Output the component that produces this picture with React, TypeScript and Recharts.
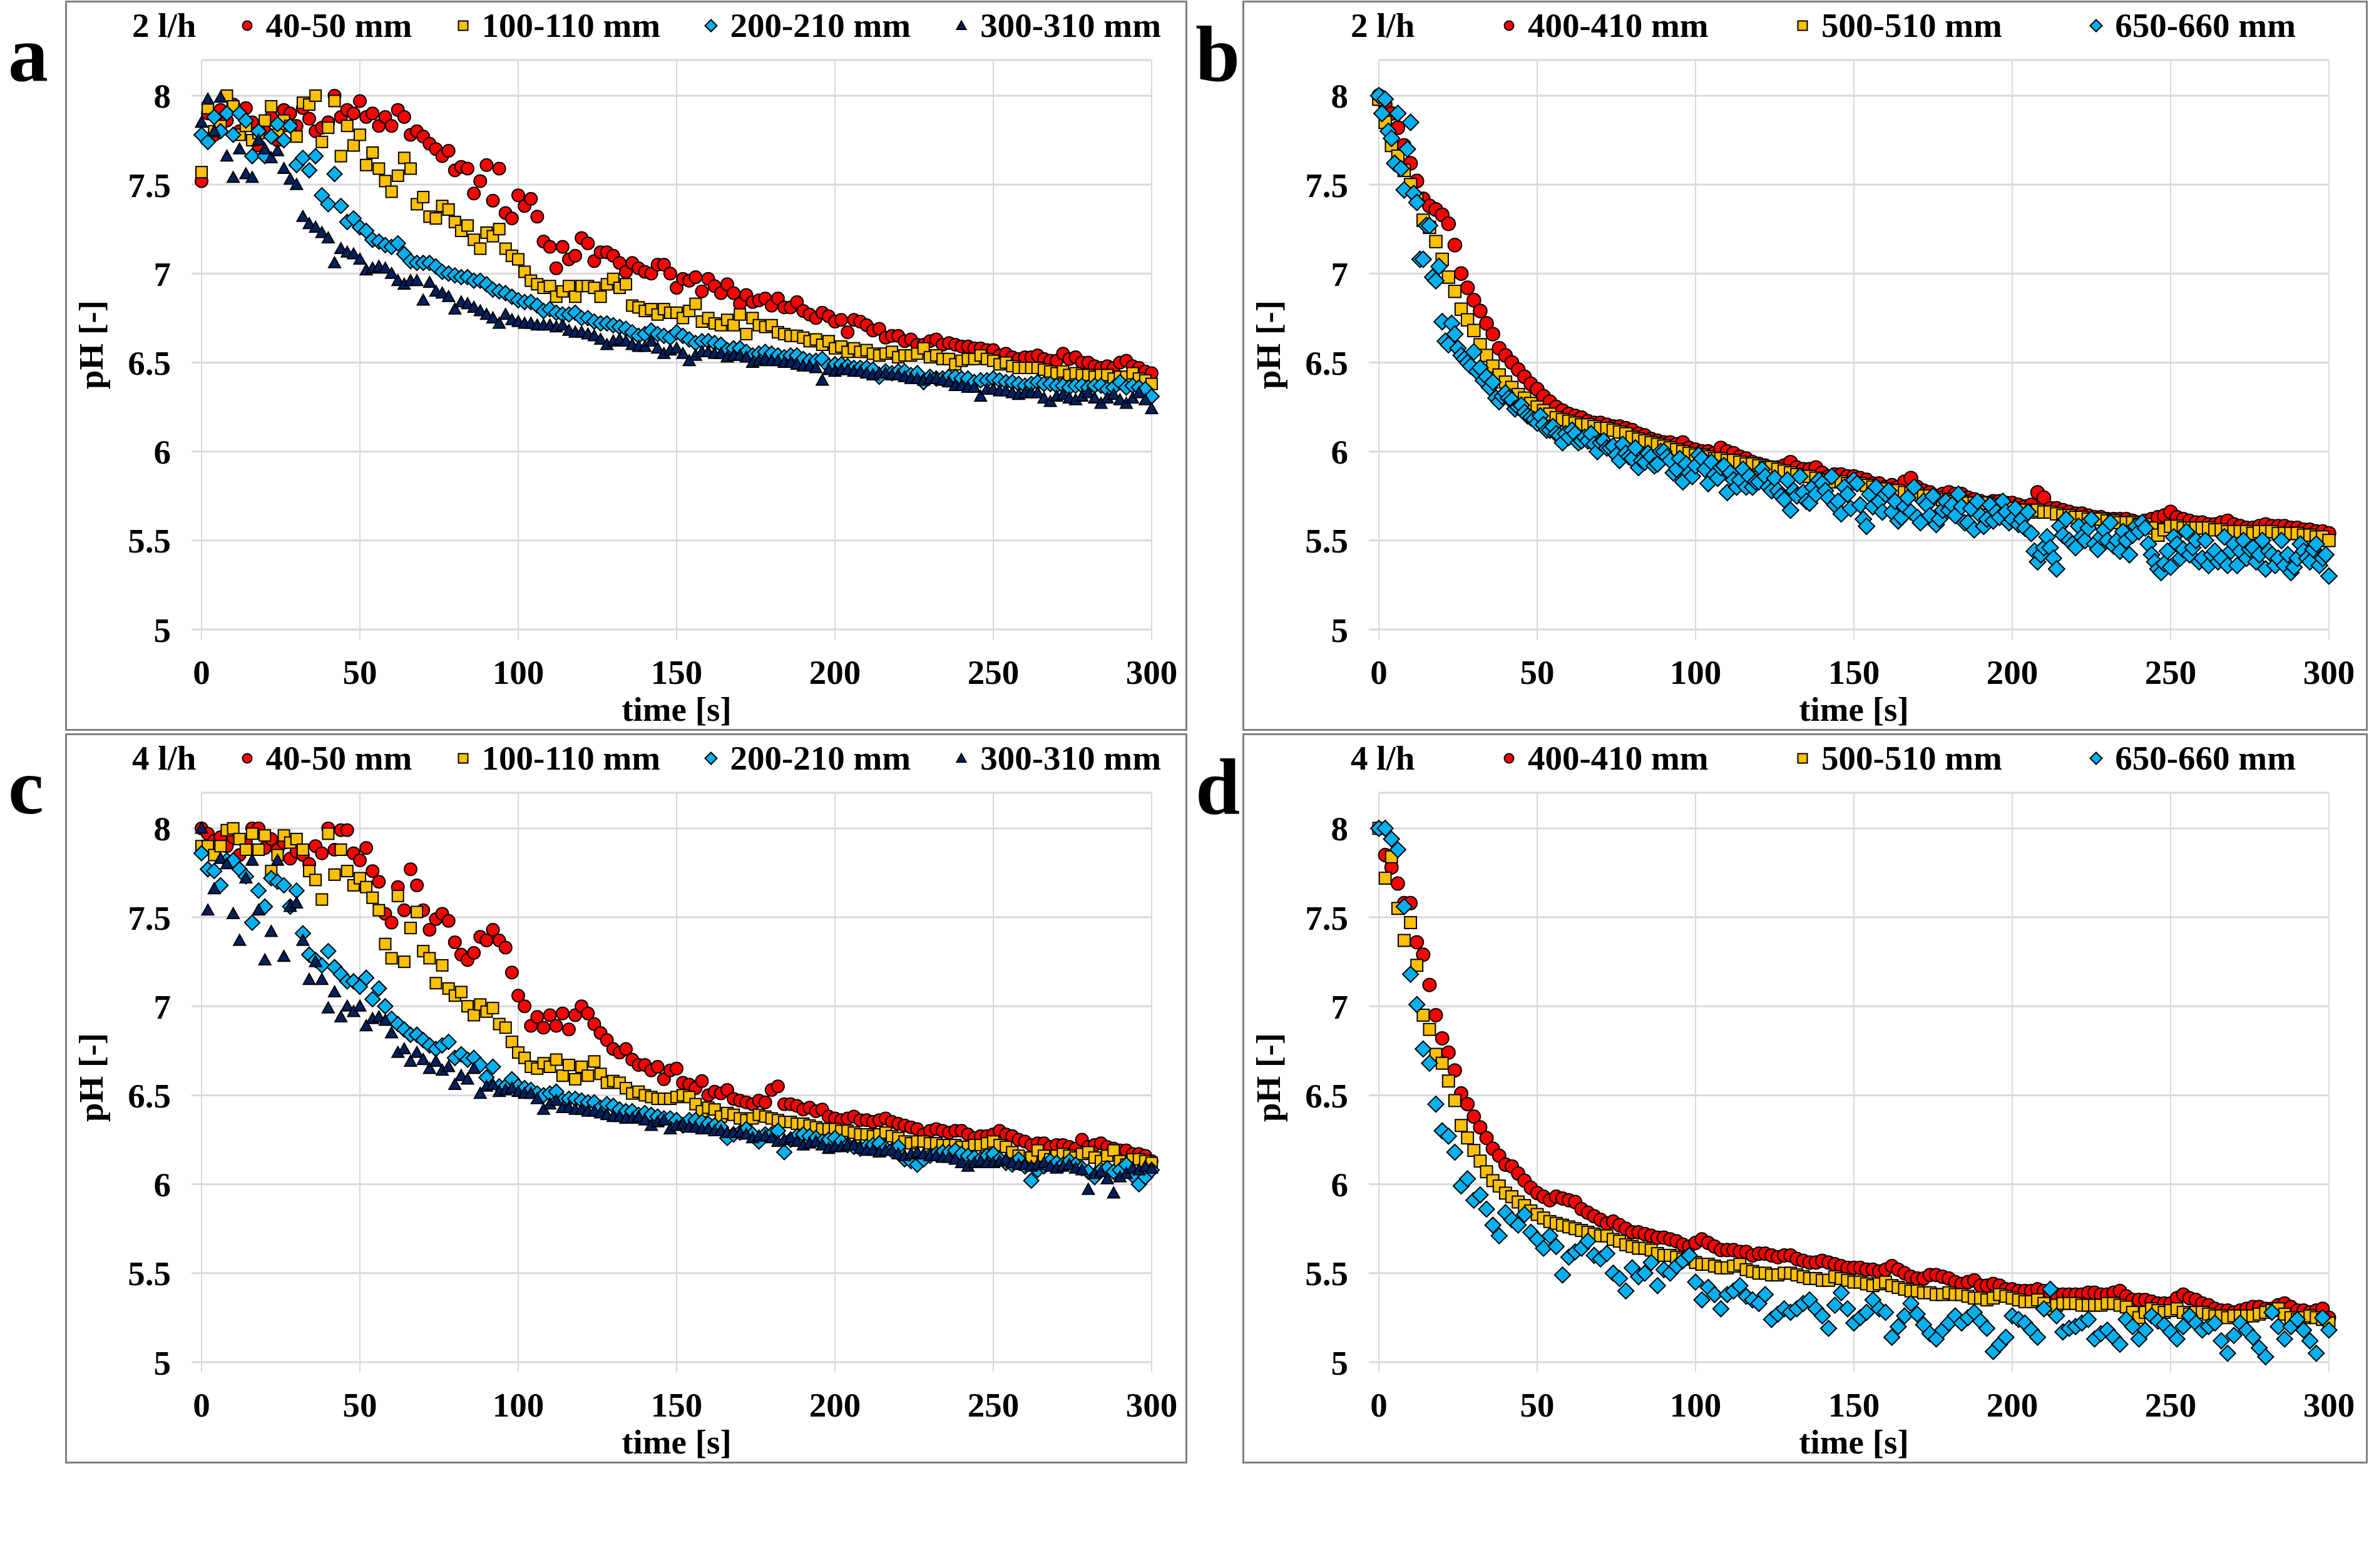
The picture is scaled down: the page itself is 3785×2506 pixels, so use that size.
import { ScatterChart, Scatter, XAxis, YAxis, CartesianGrid } from "recharts";

const FONT = "'Liberation Serif', 'Times New Roman', serif";

// logger wrote one pH reading every 2 s over the 300 s run
const TIME_S = Array.from({ length: 151 }, (_, i) => i * 2);
// the 650-660 mm probe at 2 l/h also logged the odd seconds
const TIME_ODD_S = Array.from({ length: 150 }, (_, i) => i * 2 + 1);

const X_TICKS = [0, 50, 100, 150, 200, 250, 300];
const Y_TICKS = [5, 5.5, 6, 6.5, 7, 7.5, 8];

const RED = "#ff0000";
const YELLOW = "#ffc000";
const BLUE = "#00b0f0";
const NAVY = "#002060";

// ---- a: 2 l/h, upper probes ----
const A_40_50 = [
  7.52, 7.90, 7.78, 7.92, 7.86, 7.95, 7.80, 7.93, 7.85, 7.72,
  7.80, 7.88, 7.75, 7.92, 7.90, 7.83, 7.93, 7.87, 7.80, 7.82,
  7.85, 8.00, 7.88, 7.92, 7.90, 7.97, 7.88, 7.90, 7.83, 7.88,
  7.83, 7.92, 7.88, 7.78, 7.80, 7.77, 7.73, 7.70, 7.66, 7.69,
  7.58, 7.60, 7.59, 7.45, 7.52, 7.61, 7.41, 7.59, 7.34, 7.31,
  7.44, 7.38, 7.42, 7.32, 7.18, 7.15, 7.03, 7.15, 7.08, 7.10,
  7.20, 7.17, 7.07, 7.12, 7.12, 7.10, 7.06, 7.01, 7.06, 7.03,
  7.01, 7.00, 7.05, 7.05, 7.00, 6.92, 6.97, 6.96, 6.98, 6.90,
  6.97, 6.93, 6.89, 6.94, 6.89, 6.83, 6.88, 6.84, 6.85, 6.86,
  6.82, 6.86, 6.81, 6.81, 6.84, 6.79, 6.77, 6.75, 6.78, 6.76,
  6.73, 6.74, 6.67, 6.74, 6.73, 6.71, 6.68, 6.69, 6.64, 6.65,
  6.65, 6.62, 6.63, 6.60, 6.60, 6.62, 6.63, 6.60, 6.61, 6.60,
  6.59, 6.59, 6.58, 6.58, 6.57, 6.57, 6.54, 6.55, 6.53, 6.52,
  6.53, 6.53, 6.54, 6.52, 6.51, 6.51, 6.55, 6.52, 6.53, 6.50,
  6.50, 6.48, 6.47, 6.48, 6.47, 6.50, 6.51, 6.48, 6.47, 6.45, 6.44,
];
const A_100_110 = [
  7.57, 7.93, 7.80, 7.83, 8.00, 7.94, 7.78, 7.83, 7.75, 7.79,
  7.86, 7.94, 7.78, 7.86, 7.83, 7.77, 7.96, 7.95, 8.00, 7.74,
  7.82, 7.97, 7.66, 7.83, 7.72, 7.78, 7.61, 7.68, 7.59, 7.52,
  7.46, 7.55, 7.65, 7.59, 7.39, 7.43, 7.32, 7.31, 7.38, 7.36,
  7.29, 7.24, 7.27, 7.19, 7.14, 7.23, 7.21, 7.25, 7.14, 7.10,
  7.08, 7.01, 6.96, 6.94, 6.92, 6.93, 6.87, 6.90, 6.93, 6.87,
  6.93, 6.93, 6.92, 6.87, 6.94, 6.97, 6.92, 6.94, 6.82, 6.81,
  6.79, 6.80, 6.77, 6.80, 6.78, 6.78, 6.75, 6.79, 6.83, 6.73,
  6.75, 6.72, 6.71, 6.74, 6.71, 6.77, 6.66, 6.75, 6.71, 6.70,
  6.71, 6.67, 6.66, 6.65, 6.65, 6.64, 6.62, 6.63, 6.60, 6.62,
  6.58, 6.59, 6.56, 6.58, 6.56, 6.57, 6.55, 6.54, 6.55, 6.56,
  6.53, 6.54, 6.54, 6.55, 6.58, 6.53, 6.54, 6.52, 6.52, 6.49,
  6.51, 6.52, 6.52, 6.54, 6.52, 6.51, 6.49, 6.50, 6.48, 6.47,
  6.47, 6.47, 6.47, 6.46, 6.45, 6.44, 6.45, 6.43, 6.44, 6.43,
  6.43, 6.42, 6.43, 6.43, 6.41, 6.42, 6.42, 6.44, 6.41, 6.40, 6.38,
];
const A_200_210 = [
  7.78, 7.74, 7.88, 7.80, 7.90, 7.78, 7.90, 7.86, 7.66, 7.80,
  7.66, 7.77, 7.84, 7.75, 7.83, 7.61, 7.65, 7.58, 7.66, 7.44,
  7.39, 7.56, 7.38, 7.29, 7.31, 7.26, 7.24, 7.19, 7.18, 7.16,
  7.15, 7.17, 7.11, 7.07, 7.06, 7.06, 7.06, 7.04, 7.01, 7.00,
  6.99, 6.98, 6.98, 6.96, 6.96, 6.94, 6.91, 6.90, 6.89, 6.87,
  6.85, 6.84, 6.84, 6.82, 6.79, 6.80, 6.78, 6.77, 6.77, 6.78,
  6.75, 6.75, 6.73, 6.72, 6.72, 6.71, 6.70, 6.69, 6.67, 6.65,
  6.66, 6.68, 6.66, 6.65, 6.64, 6.67, 6.65, 6.63, 6.61, 6.62,
  6.62, 6.61, 6.60, 6.57, 6.58, 6.58, 6.56, 6.54, 6.55, 6.56,
  6.55, 6.54, 6.53, 6.54, 6.54, 6.52, 6.51, 6.51, 6.52, 6.48,
  6.49, 6.49, 6.48, 6.47, 6.47, 6.47, 6.46, 6.42, 6.45, 6.44,
  6.45, 6.45, 6.43, 6.44, 6.39, 6.42, 6.41, 6.41, 6.42, 6.42,
  6.41, 6.41, 6.39, 6.40, 6.40, 6.41, 6.40, 6.39, 6.39, 6.38,
  6.37, 6.38, 6.39, 6.38, 6.38, 6.37, 6.37, 6.36, 6.37, 6.37,
  6.36, 6.37, 6.37, 6.35, 6.36, 6.39, 6.36, 6.37, 6.36, 6.35, 6.31,
];
const A_300_310 = [
  7.85, 7.98, 7.80, 7.99, 7.66, 7.54, 7.70, 7.56, 7.54, 7.75,
  7.70, 7.65, 7.69, 7.59, 7.53, 7.50, 7.32, 7.28, 7.26, 7.23,
  7.20, 7.06, 7.14, 7.12, 7.11, 7.08, 7.02, 7.03, 7.04, 7.03,
  7.00, 6.96, 6.94, 6.96, 6.96, 6.85, 6.95, 6.90, 6.89, 6.87,
  6.80, 6.84, 6.83, 6.81, 6.79, 6.77, 6.75, 6.72, 6.77, 6.74,
  6.73, 6.72, 6.72, 6.71, 6.71, 6.71, 6.70, 6.71, 6.68, 6.67,
  6.67, 6.66, 6.65, 6.63, 6.60, 6.62, 6.63, 6.62, 6.60, 6.59,
  6.59, 6.62, 6.58, 6.55, 6.57, 6.58, 6.55, 6.51, 6.54, 6.56,
  6.56, 6.55, 6.55, 6.53, 6.54, 6.54, 6.53, 6.50, 6.51, 6.52,
  6.51, 6.51, 6.50, 6.50, 6.49, 6.48, 6.48, 6.47, 6.40, 6.46,
  6.45, 6.46, 6.46, 6.45, 6.45, 6.44, 6.43, 6.44, 6.44, 6.43,
  6.43, 6.42, 6.41, 6.41, 6.40, 6.41, 6.41, 6.40, 6.39, 6.37,
  6.37, 6.36, 6.36, 6.31, 6.35, 6.35, 6.34, 6.34, 6.33, 6.32,
  6.33, 6.33, 6.33, 6.30, 6.28, 6.31, 6.32, 6.30, 6.29, 6.31,
  6.33, 6.30, 6.27, 6.30, 6.32, 6.29, 6.27, 6.30, 6.33, 6.29, 6.24,
];

// ---- b: 2 l/h, lower probes ----
const B_400_410 = [
  8.00, 7.95, 7.90, 7.82, 7.72, 7.62, 7.52, 7.42, 7.38, 7.36,
  7.33, 7.28, 7.16, 7.00, 6.92, 6.85, 6.79, 6.72, 6.66, 6.58,
  6.54, 6.50, 6.46, 6.42, 6.38, 6.35, 6.31, 6.28, 6.25, 6.23,
  6.21, 6.20, 6.19, 6.17, 6.16, 6.16, 6.15, 6.14, 6.14, 6.13,
  6.12, 6.10, 6.09, 6.07, 6.06, 6.05, 6.05, 6.04, 6.05, 6.02,
  6.01, 6.00, 6.00, 5.99, 6.02, 6.00, 5.99, 5.97, 5.96, 5.94,
  5.93, 5.92, 5.91, 5.91, 5.92, 5.94, 5.91, 5.90, 5.90, 5.91,
  5.88, 5.86, 5.87, 5.87, 5.86, 5.86, 5.85, 5.84, 5.82, 5.82,
  5.80, 5.81, 5.80, 5.83, 5.85, 5.80, 5.78, 5.77, 5.75, 5.76,
  5.77, 5.76, 5.76, 5.74, 5.73, 5.72, 5.71, 5.72, 5.72, 5.71,
  5.71, 5.70, 5.69, 5.70, 5.77, 5.74, 5.68, 5.68, 5.67, 5.66,
  5.65, 5.65, 5.64, 5.63, 5.63, 5.62, 5.62, 5.62, 5.62, 5.61,
  5.60, 5.61, 5.62, 5.63, 5.64, 5.66, 5.63, 5.62, 5.61, 5.60,
  5.60, 5.59, 5.59, 5.60, 5.61, 5.59, 5.58, 5.57, 5.57, 5.58,
  5.59, 5.58, 5.58, 5.58, 5.57, 5.57, 5.56, 5.56, 5.55, 5.55, 5.54,
];
const B_500_510 = [
  7.98, 7.85, 7.72, 7.66, 7.58, 7.50, 7.42, 7.30, 7.26, 7.18,
  7.08, 6.98, 6.90, 6.80, 6.74, 6.68, 6.60, 6.54, 6.48, 6.43,
  6.39, 6.36, 6.32, 6.30, 6.27, 6.25, 6.23, 6.21, 6.19, 6.18,
  6.17, 6.16, 6.15, 6.15, 6.14, 6.13, 6.13, 6.12, 6.11, 6.10,
  6.08, 6.07, 6.06, 6.05, 6.04, 6.03, 6.02, 6.01, 6.00, 5.99,
  5.98, 5.98, 5.97, 5.96, 5.96, 5.95, 5.95, 5.94, 5.93, 5.93,
  5.92, 5.91, 5.91, 5.90, 5.89, 5.88, 5.87, 5.86, 5.86, 5.85,
  5.84, 5.84, 5.83, 5.83, 5.82, 5.82, 5.82, 5.81, 5.80, 5.79,
  5.79, 5.78, 5.78, 5.77, 5.77, 5.76, 5.75, 5.75, 5.74, 5.73,
  5.73, 5.72, 5.72, 5.71, 5.71, 5.71, 5.71, 5.70, 5.69, 5.68,
  5.68, 5.67, 5.67, 5.66, 5.67, 5.66, 5.66, 5.65, 5.64, 5.64,
  5.63, 5.63, 5.62, 5.62, 5.62, 5.61, 5.61, 5.60, 5.60, 5.60,
  5.59, 5.59, 5.57, 5.53, 5.56, 5.58, 5.58, 5.57, 5.57, 5.57,
  5.57, 5.57, 5.56, 5.56, 5.55, 5.55, 5.55, 5.55, 5.54, 5.55,
  5.55, 5.55, 5.54, 5.54, 5.54, 5.54, 5.53, 5.53, 5.52, 5.52, 5.50,
];
const B_650_660 = [
  8.00, 7.98, 7.76, 7.90, 7.47, 7.85, 7.40, 7.08, 7.27, 6.96,
  6.73, 6.60, 6.66, 6.54, 6.50, 6.56, 6.47, 6.42, 6.39, 6.28,
  6.33, 6.29, 6.25, 6.22, 6.19, 6.16, 6.15, 6.12, 6.10, 6.05,
  6.08, 6.10, 6.06, 6.06, 6.04, 6.05, 6.02, 6.03, 5.95, 5.99,
  5.96, 5.91, 5.94, 5.97, 5.93, 6.00, 5.95, 5.90, 5.83, 5.88,
  5.92, 5.96, 5.82, 5.87, 5.91, 5.77, 5.84, 5.84, 5.80, 5.80,
  5.83, 5.86, 5.78, 5.78, 5.73, 5.67, 5.75, 5.77, 5.71, 5.76,
  5.82, 5.74, 5.70, 5.65, 5.76, 5.84, 5.70, 5.58, 5.69, 5.72,
  5.76, 5.66, 5.61, 5.69, 5.66, 5.63, 5.72, 5.64, 5.59, 5.67,
  5.67, 5.64, 5.69, 5.60, 5.56, 5.64, 5.62, 5.61, 5.63, 5.66,
  5.62, 5.59, 5.57, 5.54, 5.38, 5.46, 5.46, 5.34, 5.53, 5.50,
  5.46, 5.52, 5.57, 5.48, 5.52, 5.50, 5.47, 5.44, 5.50, 5.53,
  5.55, 5.57, 5.42, 5.34, 5.37, 5.35, 5.48, 5.45, 5.42, 5.50,
  5.40, 5.36, 5.44, 5.40, 5.36, 5.48, 5.44, 5.40, 5.46, 5.42,
  5.34, 5.42, 5.40, 5.36, 5.32, 5.40, 5.44, 5.38, 5.48, 5.40, 5.30,
];
// same probe, odd seconds (1, 3, ... 299)
const B_650_660_ODD = [
  7.90, 7.80, 7.62, 7.59, 7.70, 7.45, 7.08, 7.27, 6.98, 7.04,
  6.62, 6.72, 6.58, 6.52, 6.48, 6.45, 6.40, 6.36, 6.30, 6.31,
  6.30, 6.24, 6.26, 6.20, 6.18, 6.20, 6.12, 6.14, 6.09, 6.10,
  6.12, 6.05, 6.08, 6.10, 6.00, 6.06, 6.02, 5.98, 6.04, 5.97,
  6.02, 5.95, 5.99, 5.92, 6.00, 5.97, 5.88, 5.96, 5.93, 5.86,
  5.98, 5.90, 5.94, 5.85, 5.92, 5.88, 5.80, 5.90, 5.86, 5.83,
  5.90, 5.80, 5.85, 5.75, 5.84, 5.78, 5.86, 5.72, 5.80, 5.84,
  5.78, 5.86, 5.72, 5.80, 5.68, 5.82, 5.62, 5.76, 5.80, 5.66,
  5.78, 5.72, 5.63, 5.74, 5.80, 5.60, 5.70, 5.75, 5.62, 5.72,
  5.70, 5.76, 5.60, 5.68, 5.72, 5.58, 5.70, 5.66, 5.72, 5.60,
  5.68, 5.62, 5.66, 5.44, 5.42, 5.52, 5.40, 5.58, 5.62, 5.48,
  5.58, 5.50, 5.62, 5.45, 5.56, 5.60, 5.50, 5.55, 5.42, 5.58,
  5.60, 5.48, 5.38, 5.32, 5.44, 5.52, 5.40, 5.55, 5.46, 5.38,
  5.50, 5.42, 5.38, 5.52, 5.44, 5.36, 5.50, 5.45, 5.38, 5.50,
  5.44, 5.36, 5.50, 5.42, 5.35, 5.48, 5.40, 5.45, 5.36, 5.42,
];

// ---- c: 4 l/h, upper probes ----
const C_40_50 = [
  8.00, 7.97, 7.93, 7.95, 7.90, 7.95, 7.85, 7.92, 8.00, 8.00,
  7.89, 7.94, 7.88, 7.92, 7.83, 7.87, 7.85, 7.80, 7.90, 7.86,
  8.00, 7.88, 7.99, 7.99, 7.86, 7.82, 7.89, 7.76, 7.70, 7.52,
  7.47, 7.67, 7.54, 7.77, 7.68, 7.54, 7.43, 7.49, 7.52, 7.48,
  7.36, 7.29, 7.26, 7.30, 7.39, 7.37, 7.43, 7.37, 7.33, 7.19,
  7.06, 7.00, 6.89, 6.94, 6.88, 6.95, 6.89, 6.96, 6.87, 6.95,
  7.00, 6.96, 6.90, 6.85, 6.81, 6.76, 6.74, 6.76, 6.70, 6.67,
  6.67, 6.64, 6.66, 6.59, 6.64, 6.65, 6.57, 6.56, 6.54, 6.58,
  6.50, 6.52, 6.51, 6.53, 6.48, 6.47, 6.46, 6.45, 6.47, 6.46,
  6.53, 6.55, 6.45, 6.45, 6.44, 6.42, 6.43, 6.41, 6.42, 6.38,
  6.37, 6.36, 6.37, 6.38, 6.36, 6.36, 6.35, 6.36, 6.37, 6.35,
  6.34, 6.33, 6.32, 6.31, 6.28, 6.30, 6.31, 6.30, 6.29, 6.30,
  6.30, 6.28, 6.26, 6.27, 6.27, 6.28, 6.30, 6.28, 6.27, 6.25,
  6.24, 6.22, 6.23, 6.23, 6.21, 6.22, 6.22, 6.21, 6.20, 6.25,
  6.21, 6.22, 6.23, 6.21, 6.20, 6.19, 6.19, 6.17, 6.17, 6.16, 6.13,
];
const C_100_110 = [
  7.90, 7.90, 7.85, 7.90, 7.99, 8.00, 7.94, 7.88, 7.97, 7.88,
  7.96, 7.76, 7.85, 7.96, 7.92, 7.94, 7.88, 7.76, 7.71, 7.60,
  7.97, 7.74, 7.88, 7.76, 7.68, 7.72, 7.67, 7.61, 7.54, 7.35,
  7.27, 7.62, 7.25, 7.44, 7.53, 7.31, 7.27, 7.13, 7.23, 7.10,
  7.06, 7.08, 7.00, 6.95, 7.01, 6.97, 6.99, 6.90, 6.88, 6.80,
  6.74, 6.71, 6.66, 6.65, 6.68, 6.66, 6.70, 6.61, 6.67, 6.59,
  6.66, 6.61, 6.69, 6.62, 6.57, 6.58, 6.57, 6.54, 6.51, 6.52,
  6.50, 6.49, 6.48, 6.48, 6.48, 6.49, 6.50, 6.49, 6.45, 6.41,
  6.43, 6.42, 6.38, 6.40, 6.39, 6.37, 6.36, 6.37, 6.39, 6.38,
  6.37, 6.36, 6.35, 6.35, 6.34, 6.34, 6.33, 6.32, 6.31, 6.31,
  6.31, 6.30, 6.30, 6.29, 6.28, 6.28, 6.27, 6.28, 6.29, 6.27,
  6.26, 6.24, 6.23, 6.24, 6.24, 6.23, 6.23, 6.22, 6.22, 6.22,
  6.21, 6.21, 6.22, 6.22, 6.23, 6.24, 6.22, 6.21, 6.18, 6.16,
  6.11, 6.15, 6.19, 6.16, 6.14, 6.16, 6.17, 6.16, 6.15, 6.17,
  6.18, 6.15, 6.13, 6.16, 6.19, 6.13, 6.11, 6.14, 6.14, 6.13, 6.12,
];
const C_200_210 = [
  7.86, 7.77, 7.76, 7.68, 7.82, 7.82, 7.77, 7.73, 7.47, 7.65,
  7.56, 7.72, 7.70, 7.68, 7.56, 7.65, 7.41, 7.29, 7.26, 7.23,
  7.31, 7.22, 7.18, 7.14, 7.14, 7.11, 7.16, 7.04, 7.10, 7.00,
  6.93, 6.90, 6.87, 6.84, 6.84, 6.81, 6.78, 6.76, 6.78, 6.80,
  6.71, 6.73, 6.70, 6.71, 6.67, 6.60, 6.66, 6.55, 6.55, 6.59,
  6.55, 6.54, 6.53, 6.51, 6.50, 6.51, 6.52, 6.47, 6.48, 6.48,
  6.47, 6.46, 6.46, 6.43, 6.45, 6.44, 6.42, 6.41, 6.41, 6.39,
  6.40, 6.39, 6.38, 6.37, 6.37, 6.36, 6.33, 6.36, 6.36, 6.35,
  6.34, 6.33, 6.32, 6.26, 6.28, 6.29, 6.31, 6.28, 6.24, 6.28,
  6.28, 6.30, 6.18, 6.25, 6.27, 6.28, 6.27, 6.26, 6.24, 6.25,
  6.26, 6.24, 6.22, 6.21, 6.20, 6.21, 6.22, 6.23, 6.20, 6.19,
  6.21, 6.14, 6.13, 6.11, 6.14, 6.16, 6.17, 6.18, 6.18, 6.19,
  6.17, 6.16, 6.15, 6.14, 6.16, 6.17, 6.14, 6.12, 6.11, 6.14,
  6.10, 6.02, 6.08, 6.10, 6.13, 6.12, 6.11, 6.13, 6.11, 6.09,
  6.07, 6.04, 6.08, 6.09, 6.07, 6.08, 6.11, 6.05, 6.00, 6.04, 6.08,
];
const C_300_310 = [
  8.00, 7.54, 7.66, 7.83, 7.80, 7.52, 7.37, 7.72, 7.82, 7.54,
  7.26, 7.42, 7.82, 7.28, 7.56, 7.58, 7.37, 7.15, 7.25, 7.15,
  6.99, 7.08, 6.94, 7.00, 6.97, 7.00, 6.89, 6.93, 6.94, 6.92,
  6.85, 6.74, 6.76, 6.69, 6.74, 6.70, 6.65, 6.69, 6.64, 6.66,
  6.56, 6.61, 6.59, 6.65, 6.51, 6.55, 6.56, 6.52, 6.53, 6.54,
  6.52, 6.51, 6.51, 6.48, 6.42, 6.45, 6.47, 6.43, 6.43, 6.42,
  6.42, 6.41, 6.41, 6.40, 6.39, 6.38, 6.38, 6.37, 6.37, 6.38,
  6.36, 6.33, 6.35, 6.36, 6.31, 6.33, 6.34, 6.32, 6.32, 6.31,
  6.31, 6.30, 6.30, 6.29, 6.29, 6.29, 6.28, 6.26, 6.27, 6.27,
  6.26, 6.24, 6.25, 6.26, 6.24, 6.22, 6.23, 6.24, 6.22, 6.20,
  6.21, 6.21, 6.22, 6.22, 6.20, 6.19, 6.19, 6.18, 6.19, 6.19,
  6.17, 6.16, 6.17, 6.18, 6.17, 6.16, 6.16, 6.15, 6.15, 6.14,
  6.12, 6.10, 6.12, 6.13, 6.12, 6.12, 6.13, 6.14, 6.12, 6.11,
  6.11, 6.10, 6.11, 6.12, 6.10, 6.09, 6.10, 6.11, 6.09, 6.08,
  5.97, 6.06, 6.07, 6.03, 5.95, 6.04, 6.06, 6.09, 6.08, 6.10, 6.09,
];

// ---- d: 4 l/h, lower probes ----
const D_400_410 = [
  8.00, 7.85, 7.78, 7.69, 7.58, 7.58, 7.36, 7.29, 7.12, 6.95,
  6.82, 6.74, 6.64, 6.51, 6.45, 6.38, 6.32, 6.26, 6.20, 6.16,
  6.11, 6.10, 6.06, 6.02, 5.98, 5.95, 5.93, 5.91, 5.93, 5.92,
  5.91, 5.90, 5.86, 5.84, 5.82, 5.80, 5.78, 5.79, 5.77, 5.75,
  5.73, 5.73, 5.72, 5.71, 5.70, 5.70, 5.69, 5.68, 5.66, 5.65,
  5.67, 5.69, 5.67, 5.65, 5.63, 5.63, 5.63, 5.62, 5.62, 5.60,
  5.61, 5.61, 5.60, 5.59, 5.60, 5.60, 5.58, 5.57, 5.56, 5.56,
  5.57, 5.56, 5.55, 5.54, 5.53, 5.53, 5.53, 5.52, 5.52, 5.51,
  5.52, 5.54, 5.52, 5.50, 5.48, 5.47, 5.47, 5.49, 5.49, 5.48,
  5.47, 5.45, 5.44, 5.45, 5.46, 5.43, 5.43, 5.44, 5.43, 5.41,
  5.41, 5.40, 5.40, 5.40, 5.41, 5.40, 5.39, 5.38, 5.38, 5.38,
  5.38, 5.38, 5.39, 5.39, 5.38, 5.38, 5.39, 5.40, 5.37, 5.35,
  5.35, 5.35, 5.34, 5.33, 5.33, 5.33, 5.36, 5.38, 5.36, 5.35,
  5.33, 5.32, 5.30, 5.29, 5.29, 5.28, 5.29, 5.30, 5.31, 5.31,
  5.30, 5.30, 5.32, 5.33, 5.31, 5.29, 5.29, 5.28, 5.29, 5.30, 5.25,
];
const D_500_510 = [
  8.00, 7.72, 7.84, 7.55, 7.37, 7.47, 7.23, 6.95, 6.87, 6.73,
  6.68, 6.58, 6.47, 6.33, 6.26, 6.19, 6.13, 6.07, 6.02, 5.99,
  5.95, 5.93, 5.90, 5.88, 5.85, 5.83, 5.81, 5.79, 5.78, 5.77,
  5.76, 5.75, 5.74, 5.73, 5.72, 5.71, 5.71, 5.69, 5.68, 5.66,
  5.65, 5.64, 5.64, 5.63, 5.61, 5.60, 5.60, 5.59, 5.58, 5.58,
  5.56, 5.55, 5.55, 5.54, 5.53, 5.53, 5.54, 5.55, 5.52, 5.51,
  5.50, 5.50, 5.49, 5.49, 5.50, 5.50, 5.49, 5.48, 5.47, 5.47,
  5.46, 5.46, 5.48, 5.47, 5.46, 5.45, 5.45, 5.44, 5.43, 5.44,
  5.45, 5.43, 5.42, 5.41, 5.40, 5.40, 5.39, 5.39, 5.38, 5.38,
  5.39, 5.38, 5.38, 5.37, 5.36, 5.36, 5.35, 5.36, 5.38, 5.37,
  5.36, 5.35, 5.34, 5.34, 5.35, 5.33, 5.30, 5.32, 5.33, 5.33,
  5.33, 5.32, 5.32, 5.32, 5.32, 5.33, 5.33, 5.32, 5.31, 5.28,
  5.25, 5.28, 5.30, 5.29, 5.28, 5.29, 5.30, 5.28, 5.27, 5.28,
  5.28, 5.27, 5.26, 5.26, 5.25, 5.26, 5.26, 5.26, 5.26, 5.27,
  5.28, 5.29, 5.30, 5.27, 5.25, 5.24, 5.25, 5.26, 5.25, 5.24, 5.22,
];
const D_650_660 = [
  8.00, 8.00, 7.94, 7.88, 7.56, 7.18, 7.01, 6.76, 6.68, 6.45,
  6.30, 6.27, 6.18, 5.99, 6.03, 5.91, 5.94, 5.86, 5.77, 5.71,
  5.84, 5.80, 5.77, 5.83, 5.73, 5.69, 5.64, 5.71, 5.65, 5.49,
  5.59, 5.62, 5.64, 5.68, 5.60, 5.58, 5.61, 5.50, 5.47, 5.40,
  5.53, 5.48, 5.50, 5.56, 5.43, 5.52, 5.50, 5.54, 5.57, 5.60,
  5.45, 5.35, 5.42, 5.38, 5.30, 5.38, 5.40, 5.43, 5.37, 5.35,
  5.33, 5.38, 5.24, 5.27, 5.30, 5.28, 5.30, 5.33, 5.35, 5.30,
  5.26, 5.19, 5.32, 5.39, 5.30, 5.22, 5.25, 5.28, 5.35, 5.30,
  5.28, 5.14, 5.20, 5.26, 5.33, 5.27, 5.21, 5.16, 5.13, 5.18,
  5.22, 5.26, 5.22, 5.25, 5.28, 5.23, 5.19, 5.06, 5.10, 5.14,
  5.26, 5.24, 5.22, 5.18, 5.14, 5.30, 5.41, 5.26, 5.17, 5.19,
  5.20, 5.22, 5.24, 5.13, 5.16, 5.18, 5.14, 5.10, 5.24, 5.20,
  5.13, 5.18, 5.26, 5.23, 5.21, 5.17, 5.13, 5.20, 5.26, 5.22,
  5.18, 5.20, 5.22, 5.12, 5.05, 5.15, 5.22, 5.18, 5.14, 5.08,
  5.03, 5.28, 5.20, 5.13, 5.20, 5.24, 5.18, 5.12, 5.05, 5.25, 5.18,
];

type Kind = "circle" | "square" | "diamond" | "triangle";

interface SeriesDef {
  name: string;
  values: number[];
  oddValues?: number[];
  kind: Kind;
  fill: string;
}

const SERIES_A: SeriesDef[] = [
  { name: "40-50 mm", values: A_40_50, kind: "circle", fill: RED },
  { name: "100-110 mm", values: A_100_110, kind: "square", fill: YELLOW },
  { name: "200-210 mm", values: A_200_210, kind: "diamond", fill: BLUE },
  { name: "300-310 mm", values: A_300_310, kind: "triangle", fill: NAVY },
];
const SERIES_B: SeriesDef[] = [
  { name: "400-410 mm", values: B_400_410, kind: "circle", fill: RED },
  { name: "500-510 mm", values: B_500_510, kind: "square", fill: YELLOW },
  { name: "650-660 mm", values: B_650_660, oddValues: B_650_660_ODD, kind: "diamond", fill: BLUE },
];
const SERIES_C: SeriesDef[] = [
  { name: "40-50 mm", values: C_40_50, kind: "circle", fill: RED },
  { name: "100-110 mm", values: C_100_110, kind: "square", fill: YELLOW },
  { name: "200-210 mm", values: C_200_210, kind: "diamond", fill: BLUE },
  { name: "300-310 mm", values: C_300_310, kind: "triangle", fill: NAVY },
];
const SERIES_D: SeriesDef[] = [
  { name: "400-410 mm", values: D_400_410, kind: "circle", fill: RED },
  { name: "500-510 mm", values: D_500_510, kind: "square", fill: YELLOW },
  { name: "650-660 mm", values: D_650_660, kind: "diamond", fill: BLUE },
];

function toPoints(s: SeriesDef) {
  const pts = s.values.map((ph, i) => ({ t: TIME_S[i], ph }));
  if (s.oddValues) {
    s.oddValues.forEach((ph, i) => pts.push({ t: TIME_ODD_S[i], ph }));
    pts.sort((p, q) => p.t - q.t);
  }
  return pts;
}

const CHART_W = 1792;
const PANEL_H = 1167;
const GRID = "#d9d9d9";

const TICK_STYLE = { fill: "#000", fontSize: 55, fontFamily: FONT, fontWeight: 700 };

const MARKER_SIZE: Record<Kind, number> = {
  circle: 20,
  square: 18,
  diamond: 24,
  triangle: 19,
};

function Marker({ kind, cx, cy, fill, size }: { kind: Kind; cx: number; cy: number; fill: string; size: number }) {
  if (cx == null || cy == null || isNaN(cx) || isNaN(cy)) return null;
  const h = size / 2;
  const common = { fill, stroke: "#000", strokeWidth: 2 };
  if (kind === "circle") return <circle cx={cx} cy={cy} r={h} {...common} />;
  if (kind === "square")
    return <rect x={cx - h} y={cy - h} width={size} height={size} {...common} />;
  if (kind === "diamond")
    return (
      <polygon
        points={`${cx},${cy - h} ${cx + h},${cy} ${cx},${cy + h} ${cx - h},${cy}`}
        {...common}
      />
    );
  return (
    <polygon
      points={`${cx},${cy - h} ${cx + h},${cy + h * 0.8} ${cx - h},${cy + h * 0.8}`}
      {...common}
    />
  );
}

function renderYTitle(props: any) {
  const vb = props?.viewBox ?? {};
  const x = (vb.x ?? 0) + 41;
  const y = (vb.y ?? 95) + (vb.height ?? 910) / 2;
  return (
    <text
      x={x}
      y={y}
      transform={`rotate(-90 ${x} ${y})`}
      textAnchor="middle"
      dominantBaseline="central"
      fill="#000"
      fontSize={55}
      fontFamily={FONT}
      fontWeight={700}
    >
      pH [-]
    </text>
  );
}

interface PanelProps {
  left: number;
  top: number;
  boxW: number;
  flow: string;
  series: SeriesDef[];
  legendL: number;
  legendR: number;
  letter: string;
  letterLeft: number;
  scale: number;
}

function Panel({ left, top, boxW, flow, series, legendL, legendR, letter, letterLeft, scale }: PanelProps) {
  return (
    <>
      <div
        style={{
          position: "absolute",
          left,
          top,
          width: boxW,
          height: PANEL_H,
          border: "3px solid #808080",
          boxSizing: "border-box",
        }}
      />
      <div style={{ position: "absolute", left, top }}>
        <ScatterChart
          width={CHART_W}
          height={PANEL_H}
          margin={{ top: 95, right: 56, bottom: 0, left: 0 }}
        >
          <CartesianGrid horizontal vertical={false} stroke={GRID} strokeWidth={3} />
          <CartesianGrid horizontal={false} vertical stroke={GRID} strokeWidth={2} />
          <XAxis
            type="number"
            dataKey="t"
            domain={[0, 300]}
            ticks={X_TICKS}
            interval={0}
            height={162}
            axisLine={false}
            tickLine={{ stroke: GRID, strokeWidth: 2 }}
            tickSize={16}
            tickMargin={32}
            tick={TICK_STYLE}
            label={{
              value: "time [s]",
              position: "insideBottom",
              offset: 16,
              fill: "#000",
              fontSize: 55,
              fontFamily: FONT,
              fontWeight: 700,
            }}
          />
          <YAxis
            type="number"
            dataKey="ph"
            domain={[5, 8.2]}
            ticks={Y_TICKS}
            interval={0}
            width={218}
            axisLine={false}
            tickLine={{ stroke: GRID, strokeWidth: 3 }}
            tickSize={16}
            tickMargin={33}
            tick={TICK_STYLE}
            label={renderYTitle}
          />
          {series.map((s) => (
            <Scatter
              key={s.name}
              name={s.name}
              data={toPoints(s)}
              isAnimationActive={false}
              shape={(p: any) => (
                <Marker
                  kind={s.kind}
                  cx={p.cx}
                  cy={p.cy}
                  fill={s.fill}
                  size={MARKER_SIZE[s.kind] * scale}
                />
              )}
            />
          ))}
        </ScatterChart>
      </div>

      {/* legend row */}
      <div
        style={{
          position: "absolute",
          left: left + legendL,
          top: top + 12,
          width: legendR - legendL,
          display: "flex",
          justifyContent: "space-between",
          alignItems: "center",
          fontFamily: FONT,
          fontWeight: 700,
          fontSize: 55,
          lineHeight: "55px",
          whiteSpace: "nowrap",
          color: "#000",
        }}
      >
        <span>{flow}</span>
        {series.map((s) => (
          <span key={s.name} style={{ display: "flex", alignItems: "center" }}>
            <svg width={22} height={22} style={{ display: "block" }}>
              <Marker kind={s.kind} cx={11} cy={11} fill={s.fill} size={s.kind === "diamond" ? 19 : 15} />
            </svg>
            <span style={{ marginLeft: 19 }}>{s.name}</span>
          </span>
        ))}
      </div>

      <div
        style={{
          position: "absolute",
          left: letterLeft,
          top: top + 21,
          fontFamily: FONT,
          fontWeight: 700,
          fontSize: 128,
          lineHeight: "128px",
          color: "#000",
        }}
      >
        {letter}
      </div>
    </>
  );
}

export default function App() {
  return (
    <div
      style={{
        position: "absolute",
        left: 0,
        top: 0,
        width: 3785,
        height: 2506,
        background: "#fff",
        overflow: "hidden",
      }}
    >
      <Panel left={104} top={1} boxW={1793} flow="2 l/h" series={SERIES_A} legendL={107} legendR={1751} letter="a" letterLeft={13} scale={1} />
      <Panel left={1985} top={1} boxW={1798} flow="2 l/h" series={SERIES_B} legendL={173} legendR={1683} letter="b" letterLeft={1910} scale={1.08} />
      <Panel left={104} top={1172} boxW={1793} flow="4 l/h" series={SERIES_C} legendL={107} legendR={1751} letter="c" letterLeft={13} scale={1} />
      <Panel left={1985} top={1172} boxW={1798} flow="4 l/h" series={SERIES_D} legendL={173} legendR={1683} letter="d" letterLeft={1910} scale={1.05} />
    </div>
  );
}
